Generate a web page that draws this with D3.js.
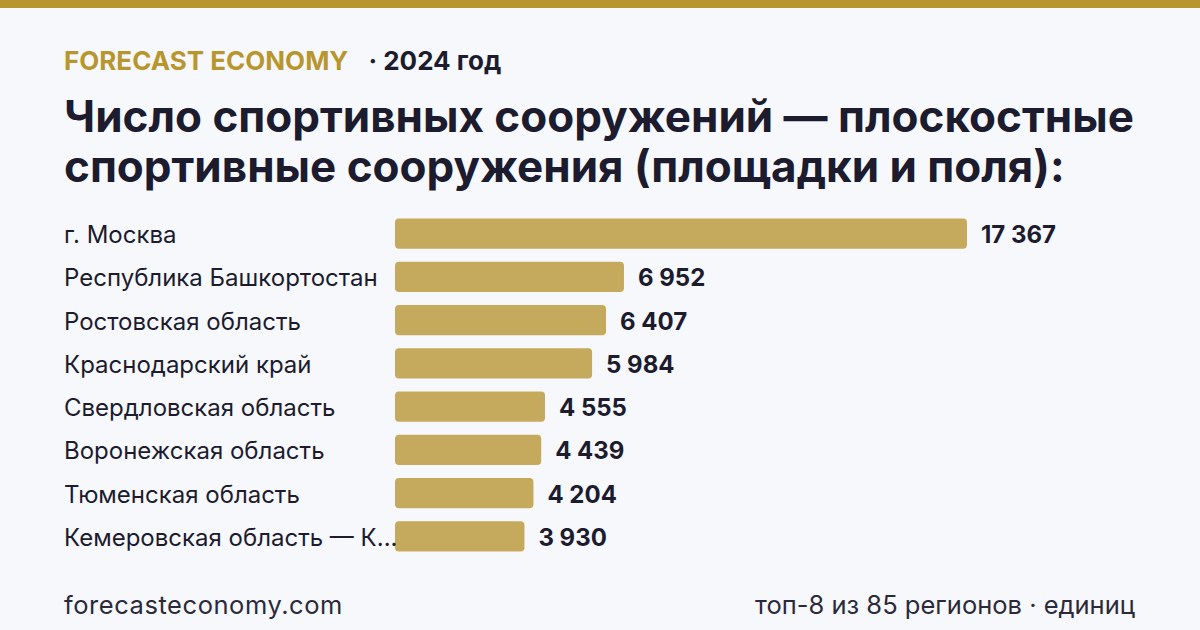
<!DOCTYPE html>
<html>
<head>
<meta charset="utf-8">
<script src="https://cdn.jsdelivr.net/npm/d3@7"></script>
<style>
  html, body { margin: 0; padding: 0; background: #f7f8fc; }
  svg { display: block; font-family: Inter, "Noto Sans", sans-serif; }
</style>
</head>
<body>
<svg id="chart" width="1200" height="630"></svg>
<script>
// data
var regions = [
  "г. Москва",
  "Республика Башкортостан",
  "Ростовская область",
  "Краснодарский край",
  "Свердловская область",
  "Воронежская область",
  "Тюменская область",
  "Кемеровская область — Кузбасс"
];
var values = [17367, 6952, 6407, 5984, 4555, 4439, 4204, 3930];

var brand = "FORECAST ECONOMY";
var yearLabel = "· 2024 год";
var titleLines = [
  "Число спортивных сооружений — плоскостные",
  "спортивные сооружения (площадки и поля):"
];
var footLeft = "forecasteconomy.com";
var footRight = "топ-8 из 85 регионов · единиц";

var W = 1200, H = 630;
var gold = "#b8962e", barColor = "#c5a95c", ink = "#1c1c2e";

var svg = d3.select("#chart");

svg.append("rect").attr("width", W).attr("height", H).attr("fill", "#f7f8fc");
svg.append("rect").attr("width", W).attr("height", 8).attr("fill", gold);

// header
var brandText = svg.append("text")
  .attr("x", 64).attr("y", 70)
  .attr("font-size", 26).attr("font-weight", 700)
  .attr("fill", gold).text(brand);
var bw = brandText.node().getComputedTextLength();
svg.append("text")
  .attr("x", 64 + bw + 20).attr("y", 70)
  .attr("font-size", 26).attr("font-weight", 700)
  .attr("fill", ink).text(yearLabel);

svg.append("g").selectAll("text")
  .data(titleLines).enter().append("text")
  .attr("x", 64)
  .attr("y", function (d, i) { return 132 + i * 50; })
  .attr("font-size", 44).attr("font-weight", 700)
  .attr("fill", ink)
  .text(function (d) { return d; });

// bars
var x0 = 395;
var x = d3.scaleLinear().domain([0, d3.max(values)]).range([0, 572]);
var y = d3.scaleBand().domain(regions).range([212, 558]).paddingInner(0.3).paddingOuter(0.15);

var rows = svg.append("g").selectAll("g")
  .data(regions).enter().append("g");

rows.append("rect")
  .attr("x", x0)
  .attr("y", function (d) { return y(d); })
  .attr("width", function (d, i) { return x(values[i]); })
  .attr("height", y.bandwidth())
  .attr("rx", 4)
  .attr("fill", barColor);

rows.append("text")
  .attr("x", function (d, i) { return x0 + x(values[i]) + 14; })
  .attr("y", function (d) { return y(d) + y.bandwidth() / 2 + 1; })
  .attr("dy", "0.35em")
  .attr("font-size", 24).attr("font-weight", 700)
  .attr("fill", ink)
  .text(function (d, i) { return d3.format(",")(values[i]).replace(/,/g, " "); });

rows.append("text")
  .attr("x", 64)
  .attr("y", function (d) { return y(d) + y.bandwidth() / 2 + 1; })
  .attr("dy", "0.35em")
  .attr("font-size", 24)
  .attr("fill", ink)
  .text(function (d) { return d; })
  .each(function (d) {
    var t = d3.select(this), maxW = x0 - 64 + 6;
    if (this.getComputedTextLength() > maxW) {
      var s = d;
      while (s.length > 1) {
        s = s.slice(0, -1);
        t.text(s + "...");
        if (this.getComputedTextLength() <= maxW) break;
      }
    }
  });

// footer
svg.append("text")
  .attr("x", 64).attr("y", 614)
  .attr("font-size", 25.5).attr("letter-spacing", 0.55)
  .attr("fill", "#2a2a3a")
  .text(footLeft);
svg.append("text")
  .attr("x", 1135).attr("y", 614)
  .attr("text-anchor", "end")
  .attr("font-size", 25.5).attr("fill", "#2a2a3a")
  .text(footRight);
</script>
</body>
</html>
